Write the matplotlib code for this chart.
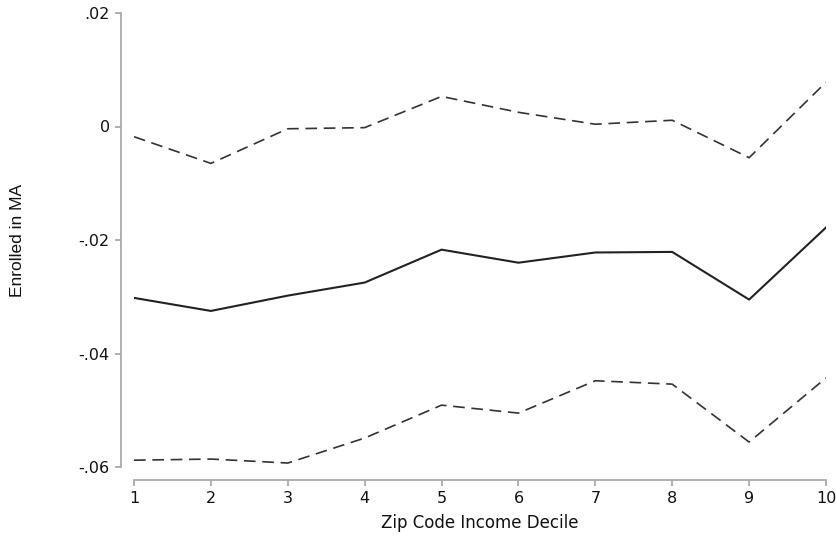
import matplotlib.pyplot as plt
import numpy as np

# data
decile = [1, 2, 3, 4, 5, 6, 7, 8, 9, 10]
estimate = [-0.0302, -0.0325, -0.0298, -0.0275, -0.0217, -0.0240, -0.0222, -0.0221, -0.0305, -0.0178]
upper_ci = [-0.0018, -0.0065, -0.0004, -0.0002, 0.0053, 0.0025, 0.0004, 0.0011, -0.0055, 0.0078]
lower_ci = [-0.0588, -0.0586, -0.0593, -0.0549, -0.0491, -0.0505, -0.0448, -0.0454, -0.0556, -0.0443]

ytick_vals = [0.02, 0, -0.02, -0.04, -0.06]
ytick_labels = ['.02', '0', '-.02', '-.04', '-.06']

W, H = 837, 537
fig = plt.figure(figsize=(W / 100, H / 100), dpi=100)
ax = fig.add_axes([134 / W, (H - 467) / H, (826 - 134) / W, (467 - 13) / H])

ax.plot(decile, upper_ci, color='#333333', lw=1.2, dashes=(7, 4))
ax.plot(decile, estimate, color='#222222', lw=1.5)
ax.plot(decile, lower_ci, color='#333333', lw=1.2, dashes=(7, 4))

ax.set_xlim(1, 10)
ax.set_ylim(-0.06, 0.02)
ax.set_xticks(decile)
ax.set_yticks(ytick_vals)
ax.set_yticklabels(ytick_labels)

for s in ['top', 'right']:
    ax.spines[s].set_visible(False)
# spines sit ~13 px away from the data area
ax.spines['left'].set_position(('outward', 9.4))
ax.spines['bottom'].set_position(('outward', 9.4))
for s in ['left', 'bottom']:
    ax.spines[s].set_color('#aaaaaa')
    ax.spines[s].set_linewidth(1.3)
ax.tick_params(colors='#aaaaaa', labelcolor='#111111', labelsize=11.5, width=1.3, length=4.5)

ax.set_xlabel('Zip Code Income Decile', fontsize=12, color='#111111')
ax.set_ylabel('Enrolled in MA', fontsize=12.5, color='#111111', family='Liberation Sans')
ax.xaxis.set_label_coords(0.5, -0.104)
ax.yaxis.set_label_coords(-0.1575, 0.5)

fig.savefig('out.png', dpi=100)
